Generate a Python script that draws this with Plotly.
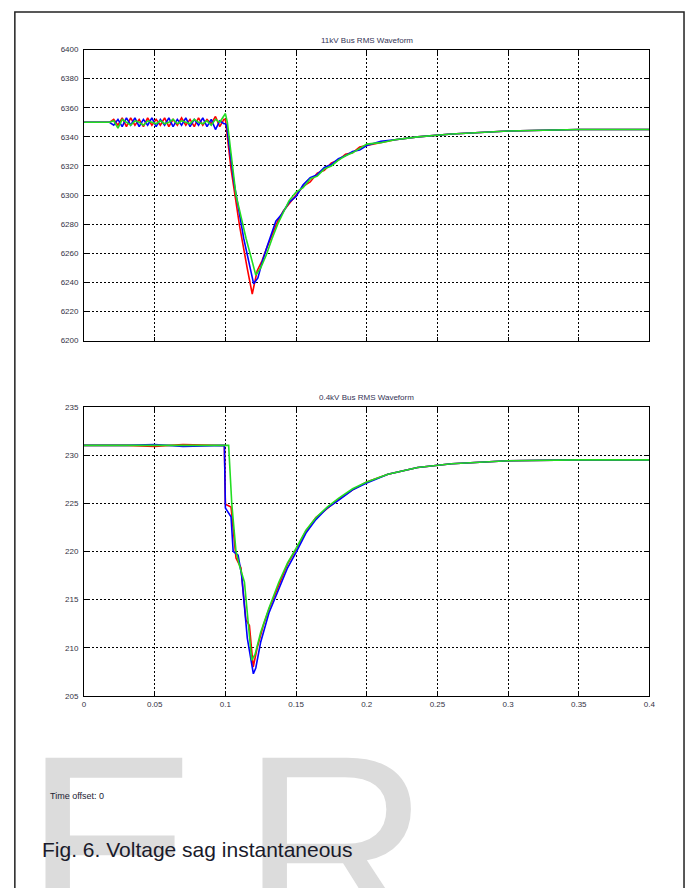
import plotly.graph_objects as go

# ---------------- data ----------------
x_ticks = [0, 0.05, 0.1, 0.15, 0.2, 0.25, 0.3, 0.35, 0.4]
x_tick_labels = ["0", "0.05", "0.1", "0.15", "0.2", "0.25", "0.3", "0.35", "0.4"]
top_y_ticks = [6200, 6220, 6240, 6260, 6280, 6300, 6320, 6340, 6360, 6380, 6400]
bot_y_ticks = [205, 210, 215, 220, 225, 230, 235]

# 11kV bus, pre-sag (shared time base)
top_pre_t = [0.0, 0.018, 0.021, 0.024, 0.027, 0.030, 0.033, 0.036, 0.039, 0.042,
             0.045, 0.048, 0.051, 0.054, 0.057, 0.060, 0.063, 0.066, 0.069, 0.072,
             0.075, 0.078, 0.081, 0.084, 0.087, 0.090, 0.093, 0.096, 0.099]
top_pre_red = [6350, 6350, 6352, 6348, 6353, 6347, 6353, 6348, 6352, 6347,
               6353, 6348, 6352, 6348, 6353, 6347, 6352, 6348, 6353, 6348,
               6352, 6347, 6353, 6348, 6352, 6349, 6354, 6347, 6352]
top_pre_blue = [6350, 6350, 6348, 6352, 6347, 6353, 6348, 6353, 6347, 6352,
                6348, 6353, 6347, 6352, 6348, 6353, 6347, 6352, 6348, 6353,
                6347, 6352, 6348, 6353, 6347, 6352, 6345, 6351, 6349]
top_pre_green = [6350, 6350, 6351, 6346, 6352, 6350, 6348, 6351, 6350, 6348,
                 6351, 6350, 6349, 6351, 6349, 6350, 6352, 6349, 6351, 6350,
                 6349, 6352, 6350, 6349, 6351, 6348, 6352, 6350, 6355]

# 11kV bus, sag and recovery
top_red_t = [0.100, 0.104, 0.110, 0.1154, 0.119, 0.1225, 0.126, 0.129, 0.133, 0.137,
             0.141, 0.145, 0.150, 0.155, 0.160, 0.165, 0.170, 0.175, 0.180, 0.185,
             0.190, 0.195, 0.200, 0.210, 0.220, 0.236, 0.260, 0.300, 0.350, 0.400]
top_red_v = [6352, 6318, 6279, 6250, 6232, 6248, 6255, 6263, 6273, 6282,
             6289, 6294, 6300, 6306, 6309, 6315, 6317, 6322, 6324, 6328,
             6329, 6333, 6334, 6336, 6338, 6340, 6342, 6344, 6345, 6345]
top_blue_t = [0.100, 0.101, 0.106, 0.113, 0.120, 0.123, 0.126, 0.130, 0.1357, 0.140,
              0.145, 0.150, 0.155, 0.160, 0.165, 0.170, 0.175, 0.180, 0.185, 0.190,
              0.195, 0.200, 0.210, 0.220, 0.236, 0.260, 0.300, 0.350, 0.400]
top_blue_v = [6349, 6347, 6309, 6270, 6239, 6243, 6254, 6266, 6282, 6287,
              6295, 6299, 6307, 6312, 6314, 6319, 6321, 6325, 6327, 6330,
              6331, 6334, 6337, 6338, 6340, 6342, 6344, 6345, 6345]
top_green_t = [0.100, 0.1014, 0.1075, 0.1147, 0.1215, 0.125, 0.129, 0.133, 0.137, 0.141,
               0.145, 0.150, 0.155, 0.160, 0.165, 0.170, 0.175, 0.180, 0.185, 0.190,
               0.195, 0.200, 0.210, 0.220, 0.236, 0.260, 0.300, 0.350, 0.400]
top_green_v = [6356, 6350, 6300, 6270, 6245, 6250, 6259, 6270, 6280, 6288,
               6296, 6302, 6305, 6311, 6313, 6318, 6320, 6324, 6327, 6329,
               6332, 6335, 6336, 6338, 6340, 6342, 6344, 6345, 6345]

# 0.4kV bus
bot_red_t = [0.0, 0.03, 0.05, 0.07, 0.0993, 0.1, 0.104, 0.1075, 0.111, 0.1145,
             0.117, 0.1197, 0.1225, 0.127, 0.1308, 0.1378, 0.144, 0.150, 0.157, 0.164,
             0.172, 0.180, 0.190, 0.200, 0.215, 0.236, 0.260, 0.300, 0.350, 0.400]
bot_red_v = [231.0, 231.0, 230.9, 231.1, 231.0, 224.9, 224.6, 219.3, 218.3, 212.9,
             212.3, 208.0, 210.0, 212.4, 214.0, 216.6, 218.7, 220.2, 222.1, 223.5,
             224.5, 225.4, 226.4, 227.2, 228.0, 228.7, 229.1, 229.4, 229.5, 229.5]
bot_blue_t = [0.0, 0.03, 0.05, 0.07, 0.0993, 0.1, 0.104, 0.1055, 0.109, 0.1115,
              0.1155, 0.1198, 0.1215, 0.125, 0.1308, 0.1378, 0.144, 0.150, 0.157, 0.164,
              0.172, 0.180, 0.190, 0.200, 0.215, 0.236, 0.260, 0.300, 0.350, 0.400]
bot_blue_v = [231.0, 231.0, 231.1, 230.9, 231.0, 224.5, 223.6, 220.0, 219.6, 217.5,
              211.0, 207.3, 207.9, 210.6, 213.6, 216.2, 218.3, 219.9, 221.9, 223.3,
              224.5, 225.3, 226.4, 227.1, 228.0, 228.7, 229.1, 229.4, 229.5, 229.5]
bot_green_t = [0.0, 0.03, 0.05, 0.07, 0.1023, 0.1045, 0.1075, 0.110, 0.1135, 0.1186,
               0.121, 0.125, 0.1308, 0.1378, 0.144, 0.150, 0.157, 0.164, 0.172, 0.180,
               0.190, 0.200, 0.215, 0.236, 0.260, 0.300, 0.350, 0.400]
bot_green_v = [231.0, 231.0, 231.0, 231.0, 231.0, 225.0, 220.0, 218.5, 216.8, 208.7,
               209.3, 211.6, 214.1, 216.8, 218.8, 220.3, 222.2, 223.5, 224.6, 225.5,
               226.5, 227.2, 228.0, 228.7, 229.1, 229.4, 229.5, 229.5]

RED, BLUE, GREEN = "#ff0000", "#0000ff", "#22dd22"

# ---------------- figure ----------------
W, H = 692, 888
fig = go.Figure()

def add(xs, ys, color, xa, ya):
    fig.add_trace(go.Scatter(x=xs, y=ys, mode="lines", xaxis=xa, yaxis=ya,
                             line=dict(color=color, width=1.6),
                             hoverinfo="skip", showlegend=False))

add(top_pre_t + top_red_t, top_pre_red + top_red_v, RED, "x", "y")
add(top_pre_t + top_blue_t, top_pre_blue + top_blue_v, BLUE, "x", "y")
add(top_pre_t + top_green_t, top_pre_green + top_green_v, GREEN, "x", "y")
add(bot_red_t, bot_red_v, RED, "x2", "y2")
add(bot_blue_t, bot_blue_v, BLUE, "x2", "y2")
add(bot_green_t, bot_green_v, GREEN, "x2", "y2")

tickfont = dict(family="Liberation Sans, Arial, sans-serif", size=8, color="#333344")
common = dict(showline=True, linecolor="black", linewidth=1, mirror="ticks",
              ticks="inside", ticklen=4, tickcolor="black", tickwidth=1,
              showgrid=True, gridcolor="black", gridwidth=1, griddash="2px,2px",
              zeroline=False, tickfont=tickfont, fixedrange=True)

xdom = [83 / W, 655 / W]
fig.update_layout(
    width=W, height=H, margin=dict(l=0, r=0, t=0, b=0),
    paper_bgcolor="white", plot_bgcolor="white", showlegend=False,
    xaxis=dict(domain=xdom, range=[0, 0.4], tickvals=x_ticks, showticklabels=False,
               anchor="y", **common),
    yaxis=dict(domain=[1 - 340 / H, 1 - 46 / H], range=[6200, 6400],
               tickvals=top_y_ticks, ticktext=[str(v) for v in top_y_ticks],
               anchor="x", ticklabelstandoff=3, **common),
    xaxis2=dict(domain=xdom, range=[0, 0.4], tickvals=x_ticks, ticktext=x_tick_labels,
                anchor="y2", **common),
    yaxis2=dict(domain=[1 - 699 / H, 1 - 407 / H], range=[205, 235],
                tickvals=bot_y_ticks, ticktext=[str(v) for v in bot_y_ticks],
                anchor="x2", ticklabelstandoff=3, **common),
)

def px(x):
    return x / W

def py(y):
    return 1 - y / H

ann = []
# watermark letters (drawn first, underneath)
wm = dict(family="Liberation Sans, Arial, sans-serif", size=262, color="#dcdcdc")
ann.append(dict(text="E", x=px(20), y=py(702), xref="paper", yref="paper",
                xanchor="left", yanchor="top", showarrow=False, font=wm))
ann.append(dict(text="R", x=px(240), y=py(702), xref="paper", yref="paper",
                xanchor="left", yanchor="top", showarrow=False, font=wm))
# subplot titles
tfont = dict(family="Liberation Sans, Arial, sans-serif", size=8, color="#333355")
ann.append(dict(text="11kV Bus RMS Waveform", x=px(369), y=py(37), xref="paper",
                yref="paper", xanchor="center", yanchor="middle", showarrow=False, font=tfont))
ann.append(dict(text="0.4kV Bus RMS Waveform", x=px(369), y=py(398), xref="paper",
                yref="paper", xanchor="center", yanchor="middle", showarrow=False, font=tfont))
ann.append(dict(text="Time offset: 0", x=px(47), y=py(800), xref="paper", yref="paper",
                xanchor="left", yanchor="middle", showarrow=False,
                font=dict(family="Liberation Sans, Arial, sans-serif", size=9, color="#222233")))
ann.append(dict(text="Fig. 6. Voltage sag instantaneous", x=px(38), y=py(854),
                xref="paper", yref="paper", xanchor="left", yanchor="middle",
                showarrow=False,
                font=dict(family="Liberation Sans, Arial, sans-serif", size=21, color="#1a1a2a")))
fig.update_layout(annotations=ann)

# page frame
fig.add_shape(type="rect", xref="paper", yref="paper", x0=px(13), x1=px(690),
              y0=py(900), y1=py(8), line=dict(color="#222222", width=1.5),
              fillcolor="rgba(0,0,0,0)", layer="below")

fig.write_html("out.html")
